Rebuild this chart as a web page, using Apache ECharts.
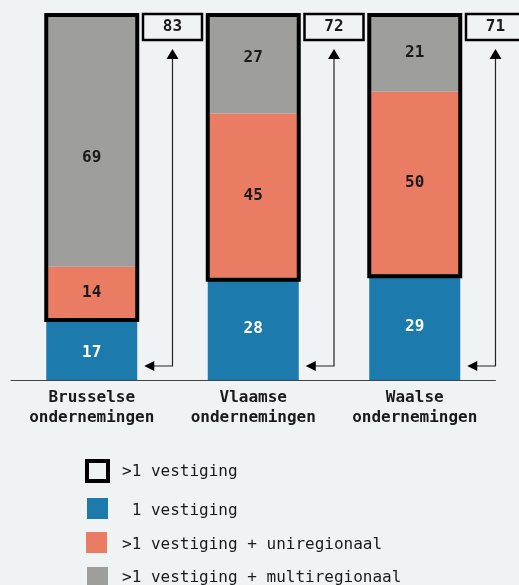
<!DOCTYPE html>
<html><head><meta charset="utf-8">
<script src="https://cdn.jsdelivr.net/npm/echarts@6/dist/echarts.min.js"></script>
<style>html,body{margin:0;padding:0;background:#f0f3f4}#c{width:519px;height:585px}</style>
</head><body><div id="c"></div>
<script>
const categories = ['Brusselse\nondernemingen', 'Vlaamse\nondernemingen', 'Waalse\nondernemingen'];
const oneVestiging = [17, 28, 29];
const uniregionaal = [14, 45, 50];
const multiregionaal = [69, 27, 21];
const meerDanEen = [83, 72, 71];
const legendLabels = ['>1 vestiging', ' 1 vestiging', '>1 vestiging + uniregionaal', '>1 vestiging + multiregionaal'];

const FONT = 'DejaVu Sans Mono';
const BLUE = '#1c7aad', ORANGE = '#e97c62', GRAY = '#9e9e9c', BG = '#f0f3f4';
const BW = 91;

const labelOffsets = { '0-gray': [0, 17], '0-blue': [0, 4], '1-gray': [0, -6] };
function mk(arr, key) {
  return arr.map((v, i) => {
    const o = labelOffsets[i + '-' + key];
    return o ? { value: v, label: { offset: o } } : v;
  });
}

const chart = echarts.init(document.getElementById('c'));
const baseLabel = { show: true, position: 'inside', fontFamily: FONT, fontWeight: 'bold', fontSize: 16, color: '#1a1a1a' };

chart.setOption({
  backgroundColor: BG,
  animation: false,
  grid: { left: 11, right: 23.5, top: 15, bottom: 205 },
  xAxis: {
    type: 'category', data: categories,
    axisLine: { lineStyle: { color: '#444', width: 1 } },
    axisTick: { show: false },
    axisLabel: { fontFamily: FONT, fontWeight: 'bold', fontSize: 16, color: '#1a1a1a', lineHeight: 20, margin: 8, interval: 0 }
  },
  yAxis: { type: 'value', min: 0, max: 100, show: false, splitLine: { show: false } },
  series: [
    { name: '1 vestiging', type: 'bar', stack: 't', barWidth: BW, data: mk(oneVestiging, 'blue'),
      itemStyle: { color: BLUE }, label: Object.assign({}, baseLabel, { color: '#ffffff' }) },
    { name: 'uni', type: 'bar', stack: 't', barWidth: BW, data: mk(uniregionaal, 'orange'),
      itemStyle: { color: ORANGE }, label: baseLabel },
    { name: 'multi', type: 'bar', stack: 't', barWidth: BW, data: mk(multiregionaal, 'gray'),
      itemStyle: { color: GRAY }, label: baseLabel },
    {
      type: 'custom', z: 10,
      data: categories.map((c, i) => [i, meerDanEen[i], oneVestiging[i], oneVestiging[i] + uniregionaal[i] + multiregionaal[i]]),
      renderItem(params, api) {
        const i = api.value(0);
        const total = api.value(1);
        const blue = api.value(2);
        const full = api.value(3);
        const top = api.coord([i, full]);
        const bot = api.coord([i, blue]);
        const base = api.coord([i, 0]);
        const band = api.size([1, 0])[0];
        const cx = top[0] + band / 2;
        const ay = base[1] - 14;
        const tipUp = top[1] + 34;
        const tipLeft = top[0] + BW / 2 + 7;
        return {
          type: 'group',
          children: [
            { type: 'rect', shape: { x: top[0] - BW / 2, y: top[1], width: BW, height: bot[1] - top[1] + 2 },
              style: { fill: 'none', stroke: '#000', lineWidth: 4 } },
            { type: 'rect', shape: { x: cx - 29.5, y: top[1] - 1, width: 59, height: 26 },
              style: { fill: BG, stroke: '#000', lineWidth: 2.5 } },
            { type: 'text', style: { x: cx, y: top[1] + 12, text: String(total), align: 'center', verticalAlign: 'middle',
              font: 'bold 16px "' + FONT + '"', fill: '#1a1a1a' } },
            { type: 'polyline', shape: { points: [[cx, tipUp + 9], [cx, ay], [tipLeft + 9, ay]] },
              style: { fill: 'none', stroke: '#222', lineWidth: 1.2 } },
            { type: 'polygon', shape: { points: [[cx, tipUp], [cx - 6, tipUp + 10], [cx + 6, tipUp + 10]] },
              style: { fill: '#000' } },
            { type: 'polygon', shape: { points: [[tipLeft, ay], [tipLeft + 10, ay - 5], [tipLeft + 10, ay + 5]] },
              style: { fill: '#000' } }
          ]
        };
      }
    }
  ],
  graphic: [
    { type: 'rect', shape: { x: 87, y: 461, width: 21, height: 20 }, style: { fill: 'none', stroke: '#000', lineWidth: 4 } },
    { type: 'rect', shape: { x: 87, y: 498, width: 21, height: 21 }, style: { fill: BLUE } },
    { type: 'rect', shape: { x: 86, y: 532, width: 21, height: 21 }, style: { fill: ORANGE } },
    { type: 'rect', shape: { x: 87, y: 567, width: 21, height: 21 }, style: { fill: GRAY } },
    { type: 'text', style: { x: 122, y: 472, text: legendLabels[0], verticalAlign: 'middle', font: '16px "' + FONT + '"', fill: '#1a1a1a' } },
    { type: 'text', style: { x: 122, y: 511, text: legendLabels[1], verticalAlign: 'middle', font: '16px "' + FONT + '"', fill: '#1a1a1a' } },
    { type: 'text', style: { x: 122, y: 545, text: legendLabels[2], verticalAlign: 'middle', font: '16px "' + FONT + '"', fill: '#1a1a1a' } },
    { type: 'text', style: { x: 122, y: 578, text: legendLabels[3], verticalAlign: 'middle', font: '16px "' + FONT + '"', fill: '#1a1a1a' } }
  ]
});
</script></body></html>
